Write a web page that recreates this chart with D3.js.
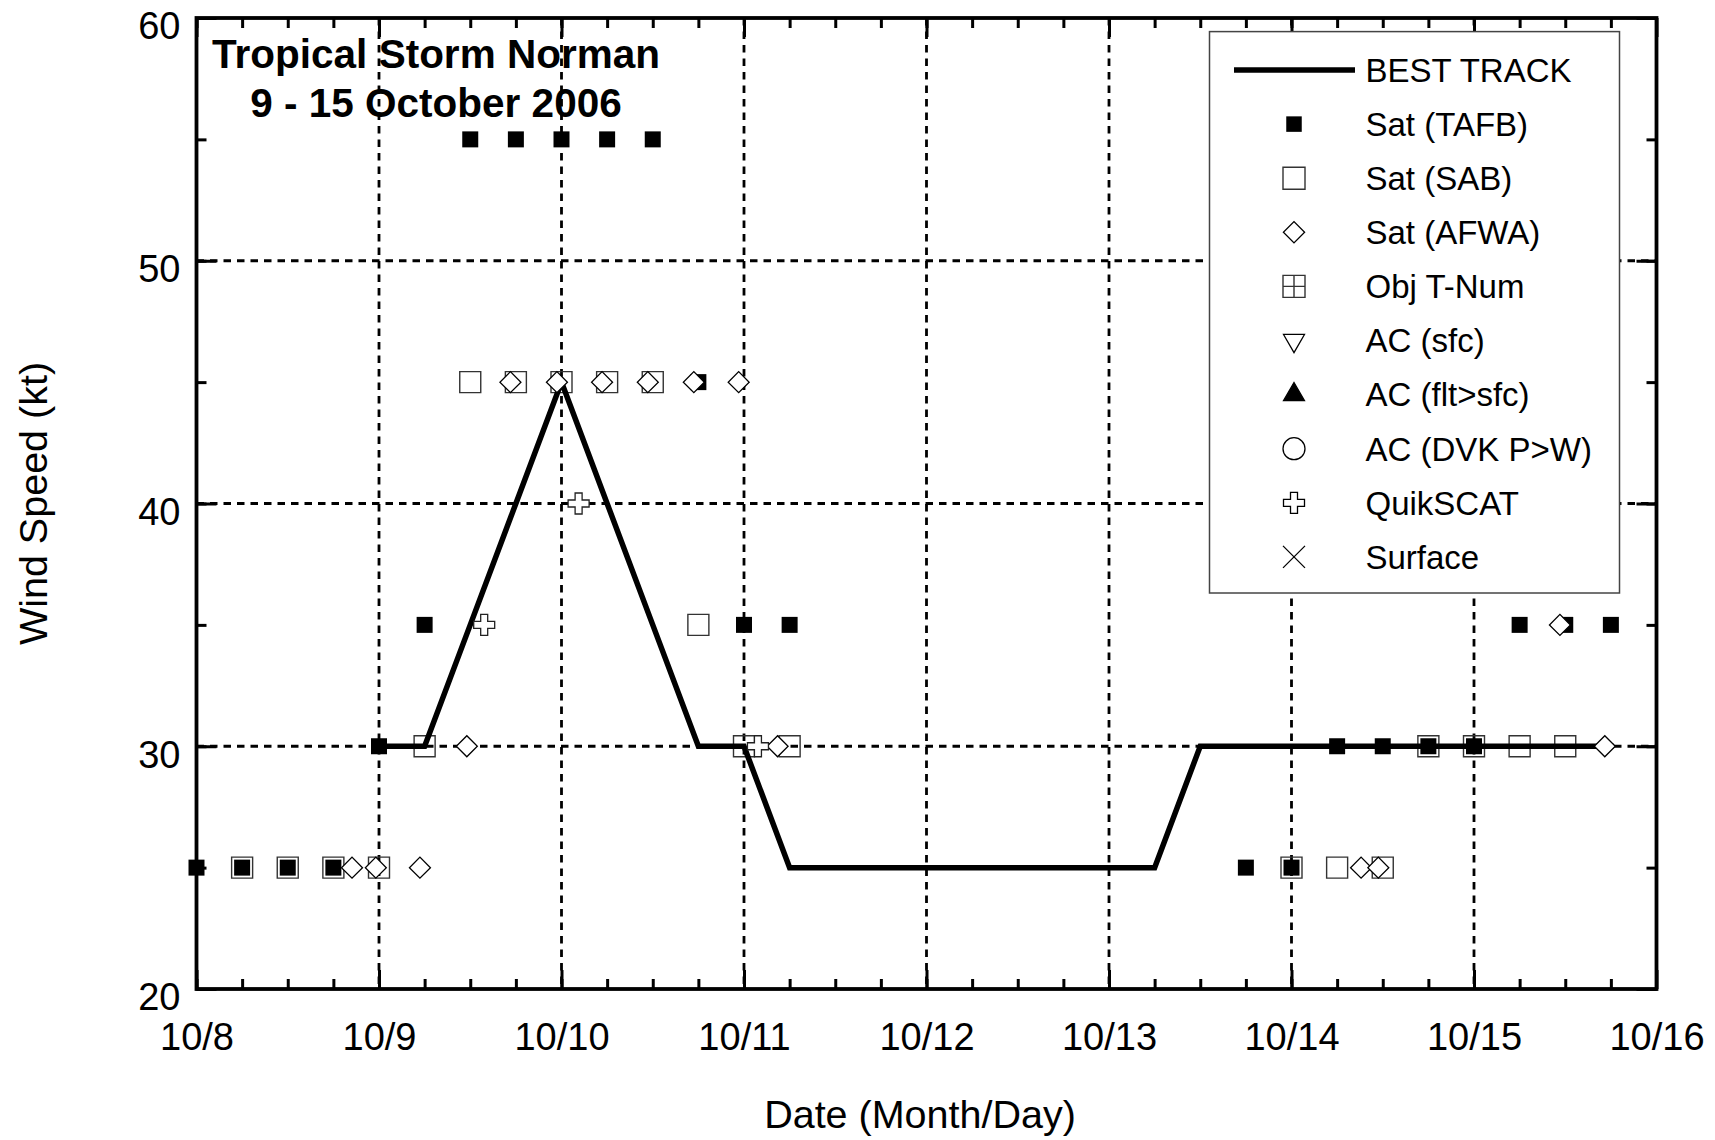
<!DOCTYPE html>
<html><head><meta charset="utf-8">
<script src="https://cdn.jsdelivr.net/npm/d3@7"></script>
<style>html,body{margin:0;padding:0;background:#fff;} svg{display:block;}</style>
</head><body>
<svg id="chart" width="1715" height="1140"></svg>
<script>
// ---------------- data ----------------
const titleLines = ["Tropical Storm Norman", "9 - 15 October 2006"];
const xAxisTitle = "Date (Month/Day)";
const yAxisTitle = "Wind Speed (kt)";
const xTickDates = ["2006-10-08 00:00","2006-10-09 00:00","2006-10-10 00:00","2006-10-11 00:00","2006-10-12 00:00","2006-10-13 00:00","2006-10-14 00:00","2006-10-15 00:00","2006-10-16 00:00"];
const xTickLabels = ["10/8","10/9","10/10","10/11","10/12","10/13","10/14","10/15","10/16"];
const yTickValues = [20, 30, 40, 50, 60];
const yGridValues = [30, 40, 50];

const bestTrack = [
  ["2006-10-09 00:00",30],["2006-10-09 06:00",30],["2006-10-09 12:00",35],["2006-10-09 18:00",40],
  ["2006-10-10 00:00",45],["2006-10-10 06:00",40],["2006-10-10 12:00",35],["2006-10-10 18:00",30],
  ["2006-10-11 00:00",30],["2006-10-11 06:00",25],["2006-10-11 12:00",25],["2006-10-11 18:00",25],
  ["2006-10-12 00:00",25],["2006-10-12 06:00",25],["2006-10-12 12:00",25],["2006-10-12 18:00",25],
  ["2006-10-13 00:00",25],["2006-10-13 06:00",25],["2006-10-13 12:00",30],["2006-10-13 18:00",30],
  ["2006-10-14 00:00",30],["2006-10-14 06:00",30],["2006-10-14 12:00",30],["2006-10-14 18:00",30],
  ["2006-10-15 00:00",30],["2006-10-15 06:00",30],["2006-10-15 12:00",30],["2006-10-15 18:00",30]
];
const satTAFB = [
  ["2006-10-08 00:00",25],["2006-10-08 06:00",25],["2006-10-08 12:00",25],["2006-10-08 18:00",25],
  ["2006-10-09 00:00",30],["2006-10-09 06:00",35],["2006-10-09 12:00",55],["2006-10-09 18:00",55],
  ["2006-10-10 00:00",55],["2006-10-10 06:00",55],["2006-10-10 12:00",55],["2006-10-10 18:00",45],
  ["2006-10-11 00:00",35],["2006-10-11 06:00",35],
  ["2006-10-13 18:00",25],["2006-10-14 00:00",25],["2006-10-14 06:00",30],["2006-10-14 12:00",30],
  ["2006-10-14 18:00",30],["2006-10-15 00:00",30],["2006-10-15 06:00",35],["2006-10-15 12:00",35],
  ["2006-10-15 18:00",35]
];
const satSAB = [
  ["2006-10-08 06:00",25],["2006-10-08 12:00",25],["2006-10-08 18:00",25],["2006-10-09 00:00",25],
  ["2006-10-09 06:00",30],["2006-10-09 12:00",45],["2006-10-09 18:00",45],["2006-10-10 00:00",45],
  ["2006-10-10 06:00",45],["2006-10-10 12:00",45],["2006-10-10 18:00",35],["2006-10-11 00:00",30],
  ["2006-10-11 06:00",30],
  ["2006-10-14 00:00",25],["2006-10-14 06:00",25],["2006-10-14 12:00",25],["2006-10-14 18:00",30],
  ["2006-10-15 00:00",30],["2006-10-15 06:00",30],["2006-10-15 12:00",30]
];
const satAFWA = [
  ["2006-10-08 20:27",25],["2006-10-08 23:35",25],["2006-10-09 05:23",25],["2006-10-09 11:33",30],
  ["2006-10-09 17:17",45],["2006-10-09 23:24",45],["2006-10-10 05:20",45],["2006-10-10 11:21",45],
  ["2006-10-10 17:24",45],["2006-10-10 23:18",45],["2006-10-11 04:25",30],
  ["2006-10-14 09:09",25],["2006-10-14 11:25",25],["2006-10-15 11:18",35],["2006-10-15 17:12",30]
];
const objTNum = [];
const acSfc = [];
const acFltSfc = [];
const acDvk = [];
const quikSCAT = [
  ["2006-10-09 13:50",35],["2006-10-10 02:15",40],["2006-10-11 01:50",30]
];
const surfaceObs = [];

const legendLabels = ["BEST TRACK","Sat (TAFB)","Sat (SAB)","Sat (AFWA)","Obj T-Num","AC (sfc)","AC (flt>sfc)","AC (DVK P>W)","QuikSCAT","Surface"];
const legendKinds  = ["line","tafb","sab","afwa","obj","acsfc","acflt","acdvk","qscat","sfc"];

// ---------------- drawing ----------------
const FONT = "'Liberation Sans', Arial, Helvetica, sans-serif";
const parseT = d3.utcParse("%Y-%m-%d %H:%M");
const svg = d3.select("#chart");
const L = 196.5, R = 1656.5, T = 18, B = 989;

const x = d3.scaleUtc().domain([parseT(xTickDates[0]), parseT(xTickDates[xTickDates.length-1])]).range([L, R]);
const y = d3.scaleLinear().domain([20, 60]).range([B, T]);

svg.append("rect").attr("width",1715).attr("height",1140).attr("fill","#fff");

// grid
const grid = svg.append("g").attr("stroke","#000").attr("stroke-width",2.8).attr("stroke-dasharray","7.5,6");
grid.selectAll("line.v").data(xTickDates.slice(1,-1)).join("line")
  .attr("x1", d=>x(parseT(d))).attr("x2", d=>x(parseT(d))).attr("y1", T).attr("y2", B);
grid.selectAll("line.h").data(yGridValues).join("line").attr("class","h")
  .attr("x1", L).attr("x2", R).attr("y1", d=>y(d)).attr("y2", d=>y(d));

// symbols
const sym = (type, size) => d3.symbol().type(type).size(size)();
function drawMarkers(data, pathStr, opts) {
  svg.append("g").selectAll("path").data(data).join("path")
    .attr("d", pathStr)
    .attr("transform", d => `translate(${x(parseT(d[0]))},${y(d[1])})` + (opts.rotate ? ` rotate(${opts.rotate})` : ""))
    .attr("fill", opts.fill).attr("stroke", opts.stroke || "none").attr("stroke-width", opts.sw || 0);
}

// SAB open squares (under the line)
drawMarkers(satSAB, sym(d3.symbolSquare, 21*21), {fill:"none", stroke:"#333", sw:1.4});

// best track
const line = d3.line().x(d=>x(parseT(d[0]))).y(d=>y(d[1]));
svg.append("path").datum(bestTrack).attr("d", line)
  .attr("fill","none").attr("stroke","#000").attr("stroke-width",5.5).attr("stroke-linejoin","miter").attr("stroke-linecap","square");

drawMarkers(satTAFB, sym(d3.symbolSquare, 16*16), {fill:"#000"});
drawMarkers(satAFWA, sym(d3.symbolSquare, 220), {fill:"#fff", stroke:"#000", sw:1.3, rotate:45});
drawMarkers(quikSCAT, sym(d3.symbolCross, 245), {fill:"#fff", stroke:"#222", sw:1.3});

// border
svg.append("rect").attr("x",L).attr("y",T).attr("width",R-L).attr("height",B-T)
  .attr("fill","none").attr("stroke","#000").attr("stroke-width",3.8);

// ticks (inside, all four sides)
const minorX = d3.utcHour.every(6).range(x.domain()[0], x.domain()[1]);
const majorXDates = xTickDates.map(parseT);
const minorY = d3.range(20, 60, 5);
function tickAxes(axisFn, scale, vals, len, transform) {
  const g = svg.append("g").attr("transform", transform)
    .call(axisFn(scale).tickValues(vals).tickSize(-len).tickFormat(""));
  g.select(".domain").remove();
  g.selectAll("line").attr("stroke","#000").attr("stroke-width",3);
}
tickAxes(d3.axisBottom, x, minorX, 10, `translate(0,${B})`);
tickAxes(d3.axisTop, x, minorX, 10, `translate(0,${T})`);
tickAxes(d3.axisBottom, x, majorXDates, 19, `translate(0,${B})`);
tickAxes(d3.axisTop, x, majorXDates, 19, `translate(0,${T})`);
tickAxes(d3.axisLeft, y, minorY, 10, `translate(${L},0)`);
tickAxes(d3.axisRight, y, minorY, 10, `translate(${R},0)`);
tickAxes(d3.axisLeft, y, yTickValues, 20, `translate(${L},0)`);
tickAxes(d3.axisRight, y, yTickValues, 20, `translate(${R},0)`);

// tick labels
const xLab = svg.append("g").attr("transform", `translate(0,${B})`)
  .call(d3.axisBottom(x).tickValues(majorXDates).tickSize(0).tickPadding(34).tickFormat((d,i)=>xTickLabels[i]));
xLab.select(".domain").remove();
xLab.selectAll("text").attr("font-family", FONT).attr("font-size", 38).attr("fill","#000");

const yLab = svg.append("g").attr("transform", `translate(${L},0)`)
  .call(d3.axisLeft(y).tickValues(yTickValues).tickSize(0).tickPadding(16).tickFormat(d3.format("d")));
yLab.select(".domain").remove();
yLab.selectAll("text").attr("font-family", FONT).attr("font-size", 38).attr("fill","#000").attr("dy","0.55em");

// axis titles
svg.append("text").attr("x", 920).attr("y", 1128).attr("text-anchor","middle")
  .attr("font-family", FONT).attr("font-size", 39.5).text(xAxisTitle);
svg.append("text").attr("transform", `translate(47,${(T+B)/2}) rotate(-90)`).attr("text-anchor","middle")
  .attr("font-family", FONT).attr("font-size", 39.5).text(yAxisTitle);

// chart title
svg.append("g").selectAll("text").data(titleLines).join("text")
  .attr("x", 436).attr("y", (d,i)=> 68 + i*49).attr("text-anchor","middle")
  .attr("font-family", FONT).attr("font-weight","bold").attr("font-size", 40.5).text(d=>d);

// legend
const LG = {x0:1209.5, x1:1619.5, y0:31.6, y1:593, row0:70, dy:54.1, sx:1294, tx:1365.5};
svg.append("rect").attr("x",LG.x0).attr("y",LG.y0).attr("width",LG.x1-LG.x0).attr("height",LG.y1-LG.y0)
  .attr("fill","#fff").attr("stroke","#444").attr("stroke-width",1.5);
const lg = svg.append("g");
const plusInSquare = (() => { const p = d3.path(); const h = 11;
  p.rect(-h,-h,2*h,2*h); p.moveTo(0,-h); p.lineTo(0,h); p.moveTo(-h,0); p.lineTo(h,0); return p.toString(); })();
const xShape = (() => { const p = d3.path(); const h = 11;
  p.moveTo(-h,-h); p.lineTo(h,h); p.moveTo(-h,h); p.lineTo(h,-h); return p.toString(); })();
const legendShapes = {
  tafb:  {d: sym(d3.symbolSquare, 15.5*15.5), fill:"#000", stroke:"none", sw:0},
  sab:   {d: sym(d3.symbolSquare, 22*22), fill:"none", stroke:"#333", sw:1.4},
  afwa:  {d: sym(d3.symbolSquare, 225), fill:"none", stroke:"#000", sw:1.3, rot:45},
  obj:   {d: plusInSquare, fill:"none", stroke:"#333", sw:1.4},
  acsfc: {d: sym(d3.symbolTriangle, 190), fill:"none", stroke:"#000", sw:1.3, rot:180},
  acflt: {d: sym(d3.symbolTriangle, 190), fill:"#000", stroke:"#000", sw:1.3},
  acdvk: {d: sym(d3.symbolCircle, 380), fill:"none", stroke:"#000", sw:1.3},
  qscat: {d: sym(d3.symbolCross, 245), fill:"none", stroke:"#000", sw:1.3},
  sfc:   {d: xShape, fill:"none", stroke:"#000", sw:1.3}
};
legendKinds.forEach((k, i) => {
  const cy = LG.row0 + i*LG.dy;
  if (k === "line") {
    lg.append("line").attr("x1",1234).attr("x2",1355).attr("y1",cy).attr("y2",cy)
      .attr("stroke","#000").attr("stroke-width",5.5);
  } else {
    const s = legendShapes[k];
    lg.append("path").attr("d", s.d)
      .attr("transform", `translate(${LG.sx},${cy})` + (s.rot ? ` rotate(${s.rot})` : ""))
      .attr("fill", s.fill).attr("stroke", s.stroke).attr("stroke-width", s.sw);
  }
  lg.append("text").attr("x", LG.tx).attr("y", cy).attr("dy","0.36em")
    .attr("font-family", FONT).attr("font-size", 33).text(legendLabels[i]);
});
</script>
</body></html>
